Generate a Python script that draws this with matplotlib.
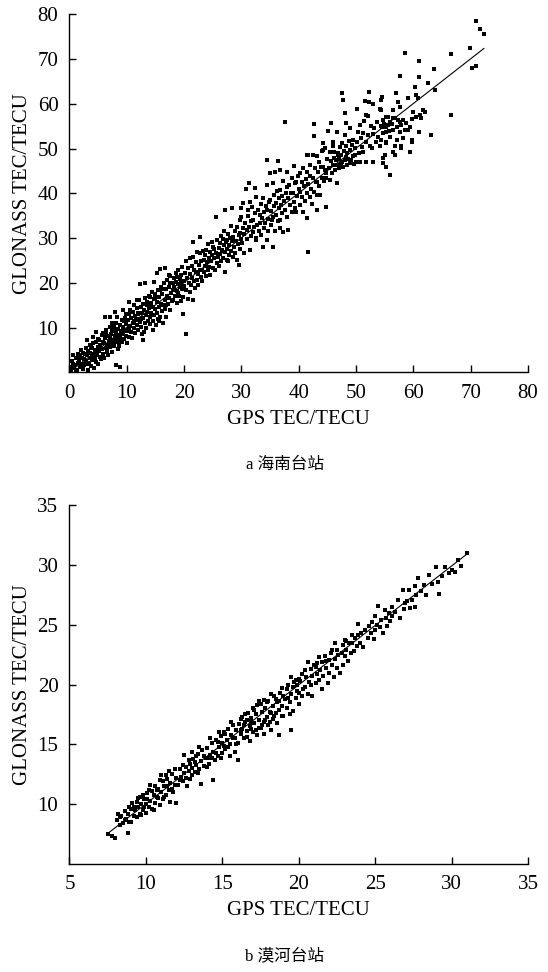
import matplotlib
matplotlib.use("Agg")
import matplotlib.pyplot as plt

# ---- Hainan station (panel a): GPS TEC vs GLONASS TEC ----
hainan_0_10 = [(0.3,0.4),(0.4,1.3),(0.5,2.6),(0.7,3.9),(0.8,0.9),(1.0,1.7),(1.1,3.2),(1.3,0.5),(1.4,2.2),(1.5,4.1),
    (1.6,2.8),(1.8,1.2),(1.9,3.6),(2.0,5.0),(2.1,2.0),(2.3,0.8),(2.4,4.3),(2.5,3.0),(2.6,1.6),(2.8,5.4),(2.9,2.5),
    (3.0,7.3),(3.1,3.8),(3.2,0.6),(3.3,4.9),(3.4,2.1),(3.5,6.1),(3.6,3.3),(3.7,1.4),(3.8,5.6),(3.9,4.2),(4.0,2.7),
    (4.1,8.0),(4.1,6.6),(4.2,3.6),(4.3,1.1),(4.4,5.0),(4.5,4.4),(4.6,2.4),(4.7,9.1),(4.7,6.9),(4.8,3.9),(4.9,5.7),
    (5.0,1.9),(5.1,4.8),(5.2,7.2),(5.3,3.5),(5.4,6.2),(5.5,2.9),(5.6,8.3),(5.7,5.3),(5.8,4.1),(5.9,8.8),(6.0,6.6),
    (6.1,3.2),(6.2,12.5),(6.2,7.7),(6.3,5.4),(6.4,9.4),(6.5,4.5),(6.6,6.1),(6.7,8.1),(6.8,3.8),(6.9,7.0),(7.0,10.2),
    (7.1,12.5),(7.1,5.6),(7.2,8.7),(7.3,6.4),(7.4,4.6),(7.5,9.6),(7.6,7.3),(7.7,10.2),(7.8,5.9),(7.9,13.6),(7.9,8.2),
    (8.0,6.8),(8.1,9.0),(8.2,1.7),(8.2,11.0),(8.3,7.5),(8.4,5.2),(8.5,9.8),(8.6,8.3),(8.7,6.5),(8.8,1.3),(8.8,10.7),
    (8.9,7.8),(9.0,9.2),(9.1,11.7),(9.2,6.9),(9.3,8.6),(9.4,14.0),(9.4,10.1),(9.5,7.4),(9.6,12.2),(9.7,9.5),(9.8,8.1),
    (9.9,10.9),(10.0,6.5),(0.6,1.9),(1.2,0.2),(1.7,3.9),(2.2,3.3),(2.7,4.1),(3.0,1.8),(3.5,4.4),(4.0,5.4),(4.4,3.0),
    (4.9,7.5),(5.3,5.9),(5.8,6.9),(6.3,8.6),(6.6,5.0),(7.0,7.8),(7.4,11.0),(7.8,9.2),(8.3,12.4),(8.6,5.9),(9.0,7.0),
    (9.5,11.5),(9.8,13.0)]
hainan_10_20 = [(10.1,9.2),(10.2,11.8),(10.3,15.8),(10.3,8.0),(10.4,13.0),(10.5,10.4),(10.6,14.0),(10.7,9.0),
    (10.8,12.2),(10.9,7.6),(11.0,11.1),(11.1,13.6),(11.2,9.9),(11.3,15.0),(11.4,12.6),(11.5,8.8),(11.6,11.7),(11.7,14.4),
    (11.8,10.5),(11.9,13.1),(12.0,9.4),(12.1,12.0),(12.2,16.2),(12.3,19.7),(12.3,11.3),(12.4,14.6),(12.5,10.1),
    (12.6,13.3),(12.7,8.6),(12.8,15.4),(12.9,7.3),(12.9,12.1),(13.0,14.0),(13.1,11.0),(13.2,19.9),(13.2,16.6),
    (13.3,12.8),(13.4,9.9),(13.5,15.0),(13.6,13.6),(13.7,11.6),(13.8,17.1),(13.9,14.3),(14.0,16.9),(14.0,10.8),
    (14.1,12.5),(14.2,15.6),(14.3,13.2),(14.4,18.0),(14.5,11.4),(14.6,9.5),(14.6,14.7),(14.7,16.4),(14.8,12.9),
    (14.9,17.6),(15.0,14.1),(15.1,10.6),(15.2,22.2),(15.2,15.8),(15.3,13.4),(15.4,18.5),(15.5,12.0),(15.6,16.9),
    (15.7,14.6),(15.8,23.1),(15.8,18.4),(15.8,12.5),(15.9,15.4),(16.0,19.2),(16.1,13.7),(16.2,17.5),(16.3,15.0),
    (16.4,11.0),(16.5,20.1),(16.6,16.2),(16.7,23.3),(16.7,14.2),(16.8,18.7),(16.9,12.5),(17.0,17.1),(17.1,20.6),
    (17.2,15.3),(17.3,19.0),(17.4,16.6),(17.5,14.0),(17.5,19.9),(17.6,21.6),(17.7,17.8),(17.8,15.9),(17.9,20.0),
    (18.0,18.5),(18.1,16.3),(18.2,21.1),(18.3,19.2),(18.4,17.0),(18.5,22.3),(18.6,20.3),(18.7,15.5),(18.7,21.4),
    (18.8,18.1),(18.9,19.7),(19.0,22.8),(19.1,17.2),(19.2,20.9),(19.3,19.0),(19.4,16.0),(19.5,21.8),(19.6,18.6),
    (19.7,23.5),(19.8,13.1),(19.8,16.9),(19.9,20.5),(10.4,10.0),(10.9,13.6),(11.3,11.4),(11.8,16.1),(12.5,12.0),
    (13.0,9.0),(13.6,15.8),(14.3,14.9),(15.0,16.6),(15.6,11.4),(16.2,18.7),(16.9,15.0),(17.3,21.8),(18.1,19.9),
    (18.9,17.7),(19.4,20.0),(12.0,13.2),(14.8,20.3)]
hainan_20_30 = [(20.0,19.3),(20.1,22.2),(20.3,8.5),(20.4,24.8),(20.4,18.4),(20.5,21.0),(20.6,16.5),(20.7,23.3),
    (20.8,20.1),(21.0,25.5),(21.0,17.9),(21.1,22.0),(21.2,19.5),(21.3,23.9),(21.4,21.2),(21.6,29.2),(21.6,25.9),
    (21.6,16.2),(21.7,20.5),(21.8,23.0),(21.9,18.9),(22.0,22.5),(22.1,24.6),(22.2,20.6),(22.3,26.9),(22.4,21.9),
    (22.5,19.6),(22.6,24.0),(22.7,22.9),(22.8,30.3),(22.8,26.6),(22.9,21.3),(23.0,24.9),(23.1,23.0),(23.2,20.4),
    (23.3,27.1),(23.4,25.2),(23.5,22.4),(23.6,23.8),(23.7,26.3),(23.8,21.6),(23.9,27.4),(24.0,24.6),(24.1,22.8),
    (24.2,28.6),(24.3,25.6),(24.4,23.6),(24.5,27.0),(24.6,21.8),(24.7,25.0),(24.8,29.2),(24.9,26.2),(25.0,23.3),
    (25.1,28.1),(25.2,25.5),(25.3,27.5),(25.5,34.8),(25.4,22.9),(25.6,26.7),(25.7,24.4),(25.8,29.5),(25.9,25.8),
    (26.0,27.9),(26.1,23.7),(26.2,28.9),(26.3,26.4),(26.4,30.6),(26.5,24.9),(26.6,27.4),(26.7,29.8),(26.8,25.6),
    (26.9,28.4),(27.0,31.6),(27.1,36.3),(27.1,26.9),(27.2,22.4),(27.3,29.1),(27.4,25.1),(27.4,29.6),(27.5,27.7),
    (27.6,31.0),(27.7,24.8),(27.8,28.5),(27.9,26.3),(28.0,30.1),(28.1,32.7),(28.2,27.1),(28.3,36.7),(28.4,29.4),
    (28.5,25.8),(28.6,30.3),(28.7,28.0),(28.8,31.7),(28.9,26.6),(29.0,29.3),(29.2,25.1),(29.3,32.4),(29.4,28.7),
    (29.5,24.0),(29.6,30.7),(29.7,34.1),(29.7,31.1),(29.8,27.5),(29.9,29.9)]
hainan_30_40 = [(30.0,36.7),(30.0,34.8),(30.1,28.9),(30.2,32.2),(30.3,37.8),(30.4,26.6),(30.5,30.9),(30.6,33.5),
    (30.8,40.9),(30.9,31.8),(31.0,29.9),(31.1,35.0),(31.2,36.3),(31.3,42.3),(31.4,32.6),(31.5,27.4),(31.5,38.2),
    (31.6,30.5),(31.7,33.9),(31.8,36.9),(32.0,31.3),(32.1,34.1),(32.2,32.6),(32.3,41.2),(32.4,35.6),(32.5,29.7),
    (32.6,39.3),(32.6,30.0),(32.8,33.0),(32.9,36.2),(33.0,31.7),(33.2,35.2),(33.2,33.3),(33.4,37.6),(33.5,30.8),
    (33.6,34.5),(33.8,38.9),(33.8,28.1),(33.9,32.2),(34.0,35.9),(34.1,33.5),(34.3,37.1),(34.4,41.9),(34.4,36.3),
    (34.4,29.6),(34.5,47.5),(34.6,31.6),(34.7,34.4),(34.8,38.0),(35.0,38.5),(35.0,44.5),(35.1,32.9),(35.2,36.0),
    (35.4,34.0),(35.5,42.3),(35.5,34.8),(35.5,28.1),(35.6,39.6),(35.7,37.2),(35.8,44.9),(35.9,31.6),(36.0,35.3),
    (36.1,37.8),(36.2,40.5),(36.3,33.8),(36.4,47.3),(36.5,36.7),(36.6,38.9),(36.7,34.1),(36.7,40.8),(36.7,45.3),
    (36.8,32.2),(36.9,37.5),(37.0,39.5),(37.1,35.6),(37.3,31.5),(37.3,42.8),(37.4,38.3),(37.6,56.0),(37.6,36.2),
    (37.7,40.1),(37.9,41.5),(37.9,44.7),(38.0,34.7),(38.1,38.9),(38.2,31.8),(38.3,42.0),(38.5,37.4),(38.6,40.0),
    (38.8,43.5),(38.9,35.9),(39.0,40.0),(39.1,38.2),(39.2,46.2),(39.3,42.3),(39.4,36.8),(39.6,42.6),(39.6,35.9),
    (39.7,39.4),(39.9,44.0)]
hainan_40_50 = [(40.0,41.1),(40.2,40.4),(40.2,44.5),(40.3,37.4),(40.5,42.5),(40.6,39.2),(40.8,35.9),(40.8,45.7),
    (41.0,41.6),(41.1,38.4),(41.3,43.2),(41.4,34.5),(41.4,44.9),(41.4,48.5),(41.5,40.2),(41.6,27.0),(41.6,48.6),
    (41.7,42.1),(41.9,39.3),(41.9,46.3),(42.0,44.0),(42.2,41.0),(42.3,37.6),(42.5,48.6),(42.5,43.4),(42.6,55.5),
    (42.6,52.8),(42.7,40.3),(42.8,45.8),(43.0,42.5),(43.1,36.3),(43.1,48.4),(43.1,42.6),(43.2,39.7),(43.4,44.8),
    (43.5,47.0),(43.6,41.6),(43.7,39.7),(43.8,45.9),(44.0,43.5),(44.1,49.4),(44.3,51.2),(44.3,46.0),(44.3,49.7),
    (44.4,42.7),(44.5,50.1),(44.6,45.2),(44.8,37.0),(44.8,43.4),(44.8,44.5),(45.0,47.6),(45.1,54.0),(45.2,45.8),
    (45.4,49.3),(45.5,42.9),(45.6,47.2),(45.7,55.7),(45.8,44.6),(45.9,50.6),(46.0,46.4),(46.0,51.6),(46.1,49.3),
    (46.2,48.0),(46.3,45.3),(46.5,47.5),(46.6,53.8),(46.6,42.3),(46.7,46.3),(46.8,49.0),(46.9,48.6),(47.0,45.7),
    (47.1,47.8),(47.2,50.3),(47.3,46.6),(47.4,48.7),(47.5,51.2),(47.5,62.4),(47.6,47.0),(47.7,60.9),(47.8,45.9),
    (47.9,49.6),(48.0,57.9),(48.0,53.1),(48.1,47.4),(48.2,50.5),(48.3,48.2),(48.3,55.7),(48.4,46.3),(48.5,49.1),
    (48.6,47.8),(48.7,51.7),(48.9,54.6),(48.9,46.9),(49.0,49.8),(49.1,47.5),(49.3,50.9),(49.5,52.0),(49.5,48.3),
    (49.6,46.6),(49.8,48.6),(49.9,50.2)]
hainan_50_58 = [(50.0,47.1),(50.2,58.9),(50.2,51.4),(50.4,53.8),(50.5,49.0),(50.7,55.3),(50.7,47.1),(50.9,52.5),
    (51.0,50.3),(51.2,53.5),(51.2,49.3),(51.4,56.3),(51.6,60.7),(51.7,51.5),(51.8,57.5),(51.8,47.1),(52.0,53.0),
    (52.1,57.3),(52.2,62.6),(52.3,60.5),(52.4,50.6),(52.6,55.0),(52.7,50.1),(52.9,53.3),(53.0,59.9),(53.0,47.1),
    (53.2,54.6),(53.4,51.5),(53.6,56.0),(53.8,52.6),(54.1,58.8),(54.1,50.5),(54.3,55.0),(54.4,60.9),(54.4,58.7),
    (54.4,52.0),(54.5,61.6),(54.6,54.8),(54.7,56.4),(54.7,53.5),(54.7,47.9),(54.7,46.7),(54.9,55.6),(55.0,48.6),
    (55.2,54.9),(55.3,57.2),(55.3,53.8),(55.3,51.6),(55.3,51.2),(55.3,46.0),(55.6,57.2),(55.6,55.4),(55.8,53.9),
    (55.9,52.7),(55.9,44.1),(56.0,56.0),(56.2,55.5),(56.5,58.7),(56.5,56.8),(56.5,54.2),(56.5,49.3),(56.8,56.8),
    (56.8,48.5),(56.8,50.5),(57.0,62.5),(57.1,54.9),(57.1,52.0),(57.3,60.5),(57.3,56.4),(57.6,66.3),(57.6,56.0),
    (57.6,53.8),(57.7,59.4),(57.9,55.3),(57.9,50.5),(57.9,50.2)]
hainan_58_73 = [(58.2,56.4),(58.2,52.3),(58.5,54.2),(58.6,71.5),(58.8,55.7),(59.1,61.4),(59.1,54.2),(59.4,54.9),
    (59.4,49.2),(59.7,52.0),(59.7,51.6),(59.8,56.6),(59.9,58.3),(60.3,63.7),(60.5,61.9),(60.5,57.2),(60.8,61.3),
    (60.9,53.8),(61.0,69.6),(61.0,66.0),(61.1,57.5),(61.3,56.8),(61.7,58.7),(62.0,58.3),(62.5,64.6),(63.0,53.0),
    (63.6,67.9),(63.7,63.1),(66.5,57.5),(66.6,71.1),(69.9,72.6),(70.2,68.1),(70.9,78.5),(71.0,68.5),(71.6,76.7),
    (72.3,75.6)]
hainan_fit_x = [0.5, 72.3]
hainan_fit_y = [0.6, 72.4]

# ---- Mohe station (panel b) ----
mohe_7_12 = [(7.5,7.5),(7.8,7.3),(8.0,7.2),(8.1,8.7),(8.2,9.2),(8.3,8.9),(8.4,9.0),(8.5,8.4),(8.6,9.4),(8.7,8.8),
    (8.8,7.6),(8.8,9.2),(8.9,8.5),(9.0,8.5),(9.0,9.6),(9.1,10.1),(9.2,9.0),(9.3,9.5),(9.4,8.9),(9.5,10.5),(9.5,9.8),
    (9.6,9.2),(9.7,10.0),(9.8,9.5),(9.9,10.4),(10.0,9.3),(10.0,10.0),(10.1,10.9),(10.2,9.8),(10.3,11.6),(10.3,10.3),
    (10.4,9.6),(10.5,10.8),(10.6,10.1),(10.7,11.2),(10.8,10.5),(10.9,12.0),(10.9,9.9),(11.0,12.4),(11.0,11.0),
    (11.1,10.4),(11.2,11.5),(11.3,10.8),(11.4,12.1),(11.5,11.2),(11.6,10.2),(11.6,11.8),(11.7,12.5),(11.8,11.0),
    (11.9,11.6),(12.0,10.1),(12.0,12.2),(8.3,8.3),(8.6,8.7),(8.9,9.8),(9.2,9.8),(9.4,10.2),(9.6,10.6),(9.8,10.8),
    (10.1,10.4),(10.4,11.1),(10.6,11.5),(10.8,11.3),(11.1,11.9),(11.3,12.4),(11.5,12.8),(11.7,11.3),(11.9,12.9),
    (10.2,11.2),(9.7,9.1),(10.5,9.5),(11.2,10.6),(11.4,11.5),(10.7,10.6),(9.9,9.8)]
mohe_12_16 = [(12.1,11.6),(12.2,12.9),(12.3,12.3),(12.4,11.9),(12.5,14.1),(12.5,12.6),(12.6,13.1),(12.7,11.5),
    (12.8,12.8),(12.9,13.4),(13.0,12.4),(13.0,13.0),(13.1,13.8),(13.2,12.7),(13.3,13.3),(13.4,14.2),(13.5,12.9),
    (13.6,11.7),(13.6,13.6),(13.7,14.5),(13.8,13.2),(13.9,13.9),(14.0,14.7),(14.1,13.4),(14.2,14.1),(14.3,15.1),
    (14.4,12.0),(14.4,14.4),(14.5,13.7),(14.6,15.4),(14.7,14.0),(14.8,14.8),(14.9,15.7),(15.0,14.3),(15.0,15.1),
    (15.1,16.0),(15.2,14.6),(15.3,15.4),(15.4,16.3),(15.5,14.0),(15.5,15.0),(15.6,15.8),(15.7,16.6),(15.8,14.4),
    (15.8,15.5),(15.9,16.2),(16.0,13.7),(16.0,15.1),(12.2,12.0),(12.4,13.3),(12.6,12.2),(12.8,13.7),(13.2,13.5),
    (13.4,12.6),(13.8,14.0),(14.0,13.1),(14.2,15.5),(14.6,14.3),(14.8,16.0),(15.2,15.9),(15.4,14.8),(15.6,16.9),
    (15.9,15.0),(13.0,14.4),(13.5,14.8),(14.1,13.9),(14.9,13.9),(12.9,12.1),(13.3,14.0),(14.3,13.9),(14.7,15.2),
    (15.1,14.9),(15.7,15.5)]
mohe_16_20 = [(16.1,16.7),(16.2,15.9),(16.3,16.3),(16.3,17.3),(16.4,15.5),(16.5,16.9),(16.6,16.1),(16.7,17.6),
    (16.8,16.5),(16.8,15.3),(16.9,17.2),(17.0,16.0),(17.0,18.0),(17.1,16.8),(17.2,17.5),(17.3,15.8),(17.3,18.3),
    (17.4,17.0),(17.5,16.4),(17.5,18.4),(17.6,17.7),(17.7,15.9),(17.7,16.9),(17.8,18.0),(17.9,17.3),(18.0,16.6),
    (18.0,18.6),(18.1,17.7),(18.2,16.2),(18.3,18.2),(18.3,17.1),(18.4,19.0),(18.5,17.6),(18.6,16.8),(18.6,18.5),
    (18.7,15.8),(18.7,17.9),(18.8,19.3),(18.9,18.2),(18.9,19.7),(19.0,17.4),(19.1,18.8),(19.2,19.6),(19.2,18.0),
    (19.3,20.0),(19.4,18.5),(19.5,16.2),(19.5,19.2),(19.6,17.8),(19.7,20.2),(19.8,18.9),(19.8,20.4),(19.9,19.5),
    (20.0,18.4),(20.0,19.3),(16.2,17.1),(16.4,16.6),(16.6,17.0),(16.9,16.3),(17.1,17.9),(17.4,18.6),(17.6,16.6),
    (17.9,18.5),(18.1,16.9),(18.4,17.4),(18.7,18.6),(19.0,19.0),(19.3,18.9),(19.6,19.8),(19.9,20.0),(17.2,16.2),
    (18.2,19.2),(19.4,17.5),(16.6,15.6),(17.8,17.0),(16.2,16.2),(16.5,17.5),(16.9,16.9),(17.4,16.4),(17.7,18.7),
    (18.2,17.6),(18.5,18.8),(18.9,17.4),(19.5,20.6),(20.0,20.5)]
mohe_20_24 = [(20.1,20.3),(20.2,20.9),(20.2,19.0),(20.3,19.6),(20.4,19.8),(20.5,20.6),(20.6,21.9),(20.6,19.2),
    (20.7,20.2),(20.8,21.3),(20.9,19.0),(20.9,20.7),(21.0,21.6),(21.1,21.5),(21.1,20.1),(21.2,20.9),(21.3,22.3),
    (21.3,20.4),(21.4,21.2),(21.5,19.6),(21.5,21.9),(21.6,20.7),(21.7,22.4),(21.8,21.4),(21.9,20.1),(22.0,22.05),
    (22.0,21.0),(22.1,22.6),(22.2,22.9),(22.2,21.6),(22.3,20.6),(22.4,23.45),(22.4,22.1),(22.5,21.4),(22.6,22.5),
    (22.7,21.0),(22.8,22.6),(22.9,21.6),(22.9,23.3),(23.0,22.4),(23.05,23.7),(23.1,22.9),(23.2,22.0),(23.3,23.5),
    (23.4,22.6),(23.5,24.1),(23.5,23.45),(23.6,22.8),(23.7,23.9),(23.8,23.2),(23.9,25.1),(23.9,24.1),(24.0,23.5),
    (20.4,21.2),(20.8,20.0),(21.2,21.8),(21.8,22.0),(22.5,22.9),(23.1,23.6)]
mohe_24_31 = [(24.1,24.3),(24.2,23.1),(24.35,24.55),(24.5,23.9),(24.6,24.9),(24.7,24.3),(24.8,25.25),(24.9,23.8),
    (25.0,25.7),(25.0,24.55),(25.1,25.0),(25.2,26.6),(25.3,24.8),(25.4,25.4),(25.5,24.3),(25.66,26.2),(25.7,25.6),
    (25.8,24.9),(25.9,26.0),(26.0,25.3),(26.1,26.5),(26.1,25.7),(26.3,26.1),(26.5,27.1),(26.6,25.6),(26.85,27.9),
    (26.9,26.3),(26.96,26.8),(27.1,27.0),(27.2,27.9),(27.3,26.4),(27.4,27.1),(27.6,28.2),(27.6,26.5),(27.7,27.5),
    (27.8,28.9),(28.0,27.8),(28.2,28.3),(28.3,27.5),(28.5,29.15),(28.7,28.4),(29.0,29.85),(29.1,28.6),(29.2,27.6),
    (29.4,29.1),(29.6,29.85),(29.8,29.3),(30.0,29.6),(30.2,29.4),(30.4,30.4),(30.6,29.9),(31.0,31.0)]
mohe_fit_x = [7.45, 31.1]
mohe_fit_y = [7.5, 31.0]

hainan = (hainan_0_10 + hainan_10_20 + hainan_20_30 + hainan_30_40 + hainan_40_50
          + hainan_50_58 + hainan_58_73)
mohe = mohe_7_12 + mohe_12_16 + mohe_16_20 + mohe_20_24 + mohe_24_31

plt.rcParams['font.family'] = ['Liberation Serif', 'Noto Sans CJK SC']
plt.rcParams['font.size'] = 15

fig = plt.figure(figsize=(5.48, 9.72), dpi=100)
ax1 = fig.add_axes([0.1268, 0.6168, 0.8367, 0.3683])
ax2 = fig.add_axes([0.1268, 0.1111, 0.8367, 0.3693])


def draw(ax, pts, fit_x, fit_y, lim, ticks, yticks):
    xs = [p[0] for p in pts]
    ys = [p[1] for p in pts]
    ax.plot(xs, ys, 's', color='black', ms=2.8, mew=0)
    ax.plot(fit_x, fit_y, '-', color='black', lw=0.8)
    ax.set_xlim(lim)
    ax.set_ylim(lim)
    ax.set_xticks(ticks)
    ax.set_yticks(yticks)
    ax.spines['top'].set_visible(False)
    ax.spines['right'].set_visible(False)
    for s in ('left', 'bottom'):
        ax.spines[s].set_linewidth(1.0)
    ax.tick_params(direction='in', length=5, width=1.0, pad=8)
    ax.set_xlabel('GPS TEC/TECU', labelpad=5)
    ax.set_ylabel('GLONASS TEC/TECU', labelpad=4)


draw(ax1, hainan, hainan_fit_x, hainan_fit_y, (0, 80),
     [0, 10, 20, 30, 40, 50, 60, 70, 80], [10, 20, 30, 40, 50, 60, 70, 80])
draw(ax2, mohe, mohe_fit_x, mohe_fit_y, (5, 35),
     [5, 10, 15, 20, 25, 30, 35], [10, 15, 20, 25, 30, 35])

fig.text(0.52, 1 - 465 / 972, 'a 海南台站', ha='center', va='center', fontsize=12)
fig.text(0.52, 1 - 957 / 972, 'b 漠河台站', ha='center', va='center', fontsize=12)

fig.savefig('out.png', dpi=100)
